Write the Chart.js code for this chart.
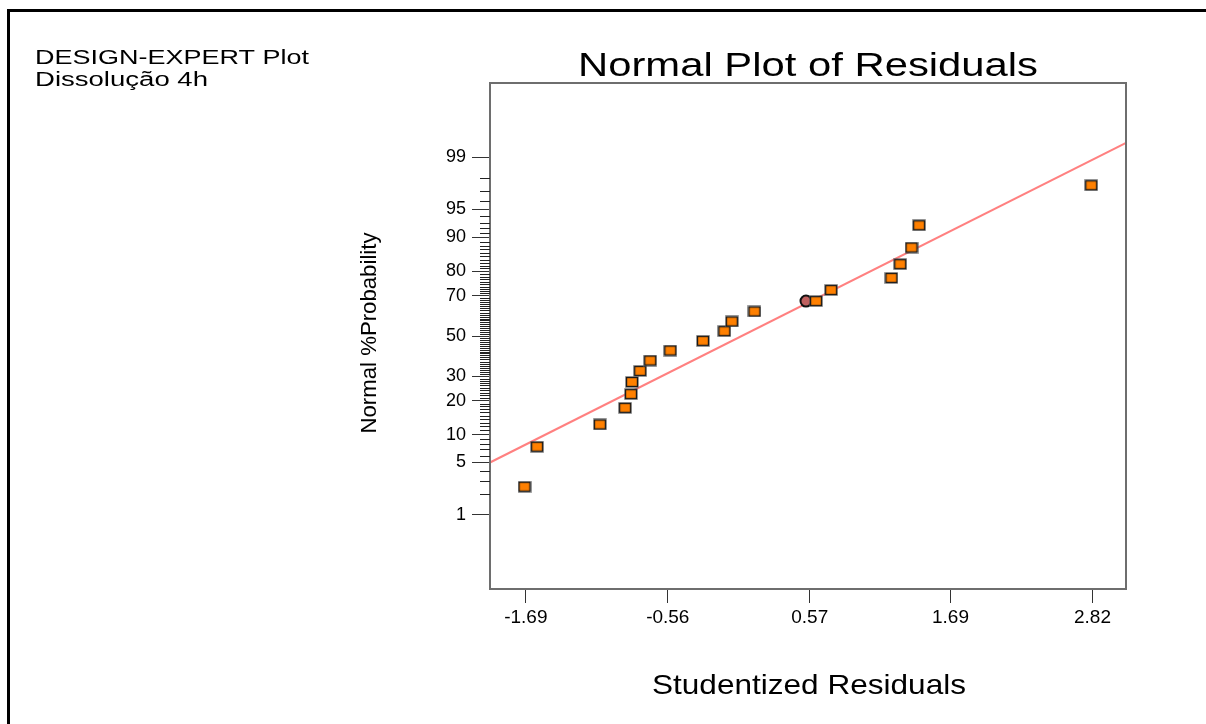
<!DOCTYPE html>
<html>
<head>
<meta charset="utf-8">
<title>Normal Plot of Residuals</title>
<script src="https://cdn.jsdelivr.net/npm/chart.js@4.4.1/dist/chart.umd.min.js"></script>
<style>
  body { margin: 0; background: #fff; }
  canvas { display: block; }
</style>
</head>
<body>
<canvas id="plot" width="1206" height="724"></canvas>
<script>
// Studentized residuals and their normal % probability
const residuals = [-1.70, -1.60, -1.10, -0.90, -0.853, -0.845, -0.78, -0.70, -0.54, -0.28, -0.11, -0.05, 0.13, 0.62, 0.74, 1.22, 1.29, 1.38, 1.44, 2.81];
const probabilities = [2.5, 7.5, 12.5, 17.5, 22.5, 27.5, 32.5, 37.5, 42.5, 47.5, 52.5, 57.5, 62.5, 67.5, 72.5, 77.5, 82.5, 87.5, 92.5, 97.5];

// highlighted point (circle)
const highlightX = [0.54];
const highlightP = [67.5];

// reference line, from edge to edge of the plot
const lineX = [-1.975, 3.087];
const lineP = [5.0, 99.4];

const xTicks = [-1.69, -0.56, 0.57, 1.69, 2.82];
const yTicks = [1, 5, 10, 20, 30, 50, 70, 80, 90, 95, 99];

const FONT = '"Liberation Sans", Arial, Helvetica, sans-serif';

// inverse of the standard normal cdf (Acklam), used for the probability axis
function probit(p) {
    const a = [-39.6968302866538, 220.946098424521, -275.928510446969, 138.357751867269, -30.6647980661472, 2.50662827745924];
    const b = [-54.4760987982241, 161.585836858041, -155.698979859887, 66.8013118877197, -13.2806815528857];
    const c = [-0.00778489400243029, -0.322396458041136, -2.40075827716184, -2.54973253934373, 4.37466414146497, 2.93816398269878];
    const d = [0.00778469570904146, 0.32246712907004, 2.445134137143, 3.75440866190742];
    const lo = 0.02425, hi = 1 - lo;
    let q, r;
    if (p < lo) {
        q = Math.sqrt(-2 * Math.log(p));
        return (((((c[0] * q + c[1]) * q + c[2]) * q + c[3]) * q + c[4]) * q + c[5]) /
               ((((d[0] * q + d[1]) * q + d[2]) * q + d[3]) * q + 1);
    }
    if (p > hi) {
        q = Math.sqrt(-2 * Math.log(1 - p));
        return -(((((c[0] * q + c[1]) * q + c[2]) * q + c[3]) * q + c[4]) * q + c[5]) /
                ((((d[0] * q + d[1]) * q + d[2]) * q + d[3]) * q + 1);
    }
    q = p - 0.5;
    r = q * q;
    return (((((a[0] * r + a[1]) * r + a[2]) * r + a[3]) * r + a[4]) * r + a[5]) * q /
           (((((b[0] * r + b[1]) * r + b[2]) * r + b[3]) * r + b[4]) * r + 1);
}

function toPoints(xs, ps) {
    return xs.map((x, i) => ({ x: x, y: probit(ps[i] / 100) }));
}

// orange square marker with a soft grey edge
function squareMarker() {
    const c = document.createElement('canvas');
    c.width = 14;
    c.height = 12;
    const g = c.getContext('2d');
    g.fillStyle = 'rgba(110,110,110,0.5)';
    g.fillRect(0, 0, 14, 12);
    g.fillStyle = '#ff8000';
    g.fillRect(1.5, 1.5, 11, 9);
    g.strokeStyle = '#1a1a1a';
    g.lineWidth = 1.4;
    g.strokeRect(1.5, 1.5, 11, 9);
    return c;
}

function stretchText(ctx, text, x, y, size, width, align, baseline) {
    ctx.save();
    ctx.font = size + 'px ' + FONT;
    const k = width / ctx.measureText(text).width;
    ctx.translate(x, y);
    ctx.scale(k, 1);
    ctx.textAlign = align;
    ctx.textBaseline = baseline || 'alphabetic';
    ctx.fillStyle = '#000';
    ctx.fillText(text, 0, 0);
    ctx.restore();
}

const decorations = {
    id: 'decorations',
    beforeDraw(chart) {
        const ctx = chart.ctx;
        ctx.save();
        ctx.fillStyle = '#000';
        ctx.fillRect(7, 9, 3, 724);
        ctx.fillRect(7, 9, 1206, 3);
        ctx.restore();
    },
    afterDraw(chart) {
        const ctx = chart.ctx;
        const a = chart.chartArea;
        const y = chart.scales.y;

        // plot frame
        ctx.save();
        ctx.strokeStyle = '#6e6e6e';
        ctx.lineWidth = 2;
        ctx.strokeRect(a.left, a.top, a.right - a.left, a.bottom - a.top);

        // minor ticks on the probability axis, every 1%
        ctx.strokeStyle = '#222';
        ctx.lineWidth = 1;
        ctx.beginPath();
        for (let p = 1; p <= 99; p++) {
            if (yTicks.includes(p)) continue;
            const py = Math.round(y.getPixelForValue(probit(p / 100))) + 0.5;
            ctx.moveTo(a.left - 10, py);
            ctx.lineTo(a.left, py);
        }
        ctx.stroke();
        ctx.restore();

        // texts
        stretchText(ctx, 'DESIGN-EXPERT Plot', 35, 64, 20, 274, 'left');
        stretchText(ctx, 'Dissolução 4h', 35, 86, 20, 173, 'left');
        stretchText(ctx, 'Normal Plot of Residuals', 808, 76, 33, 460, 'center');
        stretchText(ctx, 'Studentized Residuals', 809, 694, 28, 314, 'center');

        ctx.save();
        ctx.translate(370, 333);
        ctx.rotate(-Math.PI / 2);
        stretchText(ctx, 'Normal %Probability', 0, 0, 22, 201, 'center', 'middle');
        ctx.restore();
    }
};

new Chart(document.getElementById('plot').getContext('2d'), {
    type: 'scatter',
    data: {
        datasets: [
            {
                label: 'Residuals',
                data: toPoints(residuals, probabilities),
                pointStyle: squareMarker(),
                pointRadius: 6
            },
            {
                label: 'Highlighted',
                data: toPoints(highlightX, highlightP),
                pointStyle: 'circle',
                pointRadius: 5.5,
                backgroundColor: '#c0605f',
                borderColor: '#111',
                borderWidth: 2
            },
            {
                label: 'Fit',
                data: toPoints(lineX, lineP),
                showLine: true,
                pointRadius: 0,
                borderColor: '#ff8080',
                borderWidth: 2
            }
        ]
    },
    options: {
        responsive: false,
        animation: false,
        devicePixelRatio: 1,
        layout: { padding: { left: 0, right: 80, top: 83, bottom: 0 } },
        plugins: {
            legend: { display: false },
            tooltip: { enabled: false }
        },
        scales: {
            x: {
                type: 'linear',
                min: -1.975,
                max: 3.087,
                afterBuildTicks: s => { s.ticks = xTicks.map(v => ({ value: v })); },
                afterFit: s => { s.height = 135; },
                border: { display: false },
                grid: { drawOnChartArea: false, tickLength: 14, tickColor: '#333', lineWidth: 1 },
                ticks: {
                    callback: v => v.toFixed(2),
                    color: '#000',
                    padding: 3,
                    maxRotation: 0,
                    autoSkip: false,
                    font: { family: FONT, size: 19 }
                }
            },
            y: {
                type: 'linear',
                min: -3.29,
                max: 3.29,
                afterBuildTicks: s => { s.ticks = yTicks.map(p => ({ value: probit(p / 100) })); },
                afterFit: s => { s.width = 490; },
                border: { display: false },
                grid: { drawOnChartArea: false, tickLength: 18, tickColor: '#333', lineWidth: 1 },
                ticks: {
                    callback: (v, i) => yTicks[i],
                    color: '#000',
                    padding: 6,
                    autoSkip: false,
                    font: { family: FONT, size: 18 }
                }
            }
        }
    },
    plugins: [decorations]
});
</script>
</body>
</html>
